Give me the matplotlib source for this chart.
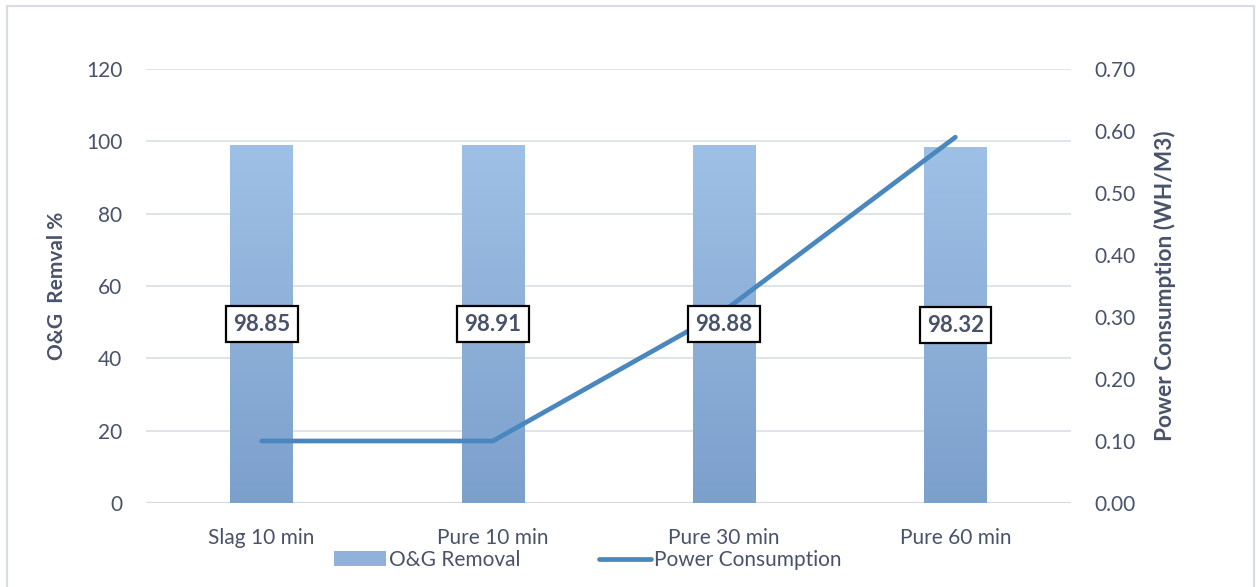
import matplotlib
matplotlib.use("Agg")
import matplotlib.pyplot as plt
import numpy as np
from matplotlib.patches import Rectangle, Patch
from matplotlib.lines import Line2D
from matplotlib.colors import LinearSegmentedColormap

categories = ["Slag 10 min", "Pure 10 min", "Pure 30 min", "Pure 60 min"]
og_removal = [98.85, 98.91, 98.88, 98.32]
power_consumption = [0.10, 0.10, 0.31, 0.59]
left_ticks = [0, 20, 40, 60, 80, 100, 120]
right_ticks = [0.0, 0.1, 0.2, 0.3, 0.4, 0.5, 0.6, 0.7]

plt.rcParams["font.family"] = ["Lato", "DejaVu Sans"]
TEXT = "#48536a"
GRID = "#dfe3ea"
LINE = "#4a87bf"

W, H = 1256, 587
fig = plt.figure(figsize=(W / 100, H / 100), dpi=100)
fig.patch.set_facecolor("white")

# chart-area frame
fig.add_artist(Rectangle((7 / W, -0.05), (1254 - 7) / W, (H - 6) / H + 0.05,
                         transform=fig.transFigure, fill=False,
                         edgecolor="#d9dde3", lw=1.6))

ax = fig.add_axes([146 / W, (H - 503) / H, (1071 - 146) / W, (503 - 69) / H])
ax2 = ax.twinx()

x = np.arange(len(categories))
bars = ax.bar(x, og_removal, width=0.27, color="#8fb1dc", zorder=2)

# vertical gradient fill on each bar
cmap = LinearSegmentedColormap.from_list("barfade", ["#7ca0cc", "#9fc0e6"])
grad = np.linspace(0, 1, 256).reshape(-1, 1)
for b in bars:
    x0, y0 = b.get_x(), b.get_y()
    w, h = b.get_width(), b.get_height()
    im = ax.imshow(grad, cmap=cmap, origin="lower", aspect="auto",
                   extent=[x0, x0 + w, y0, y0 + h], zorder=2.1)
    im.set_clip_path(b)

ax.set_xlim(-0.5, len(categories) - 0.5)
ax.set_ylim(0, 120)
ax.set_yticks(left_ticks)
ax.yaxis.grid(True, color=GRID, lw=1.4, zorder=0)
ax.set_axisbelow(True)
for s in ax.spines.values():
    s.set_visible(False)
for s in ax2.spines.values():
    s.set_visible(False)
ax.axhline(0, color="#d5dae2", lw=1.6, zorder=1)

ax.set_xticks(x)
ax.set_xticklabels(categories)
ax.tick_params(axis="x", length=0, pad=18, labelsize=15, labelcolor=TEXT)
ax.tick_params(axis="y", length=0, pad=17, labelsize=15, labelcolor=TEXT)
ax.set_ylabel("O&G  Remval %", fontsize=15, fontweight="bold", color=TEXT, labelpad=14)

ax2.plot(x, power_consumption, color=LINE, lw=3.4, solid_capstyle="round",
         solid_joinstyle="round", zorder=3)
ax2.set_ylim(0, 0.7)
ax2.set_yticks(right_ticks)
ax2.set_yticklabels([f"{t:.2f}" for t in right_ticks])
ax2.tick_params(axis="y", length=0, pad=17, labelsize=15, labelcolor=TEXT)
ax2.set_ylabel("Power Consumption (WH/M3)", fontsize=16.3, fontweight="bold",
               color=TEXT, labelpad=13)

# value labels in boxes at the middle of each bar
for xi, v in zip(x, og_removal):
    ax2.annotate(f"{v:.2f}", xy=(xi, v / 2), xycoords=ax.transData,
                 ha="center", va="center", fontsize=16, fontweight="bold",
                 color=TEXT, zorder=5,
                 bbox=dict(boxstyle="square,pad=0.33", fc="white", ec="black", lw=1.6))

handles = [Patch(facecolor="#8fb1dc", edgecolor="none"),
           Line2D([0], [0], color=LINE, lw=3.4, solid_capstyle="round")]
fig.legend(handles, ["O&G Removal", "Power Consumption"], loc="center",
           bbox_to_anchor=(588 / W, 1 - 560 / H), ncol=2, frameon=False,
           fontsize=15, labelcolor=TEXT, handlelength=2.5, handletextpad=0.15,
           columnspacing=3.75, borderaxespad=0)

fig.savefig("out.png", dpi=100, facecolor="white")
